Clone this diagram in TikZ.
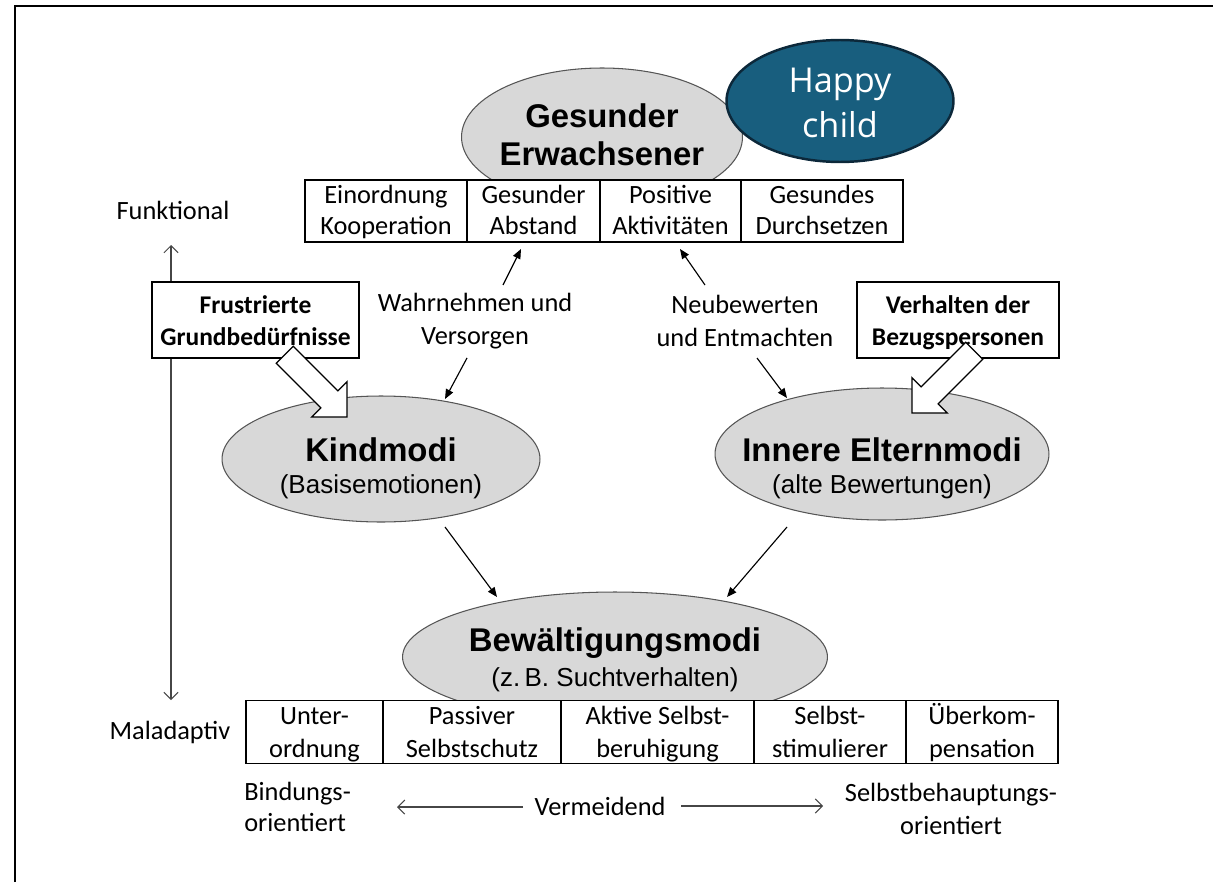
\documentclass[tikz,border=0pt]{standalone}
\usepackage{fontspec}
\setmainfont{Carlito}
\newfontfamily\arialf{Liberation Sans}
\newfontfamily\happyf{Open Sans}
\usetikzlibrary{shapes.geometric,arrows.meta}
\definecolor{ellgray}{RGB}{216,216,216}
\definecolor{elldraw}{RGB}{85,85,85}
\definecolor{happyfill}{RGB}{24,94,126}
\definecolor{happydraw}{RGB}{12,40,58}
\definecolor{axisgray}{RGB}{70,70,70}
\begin{document}
\begin{tikzpicture}[x=0.02cm,y=0.02cm,
  ell/.style={ellipse, draw=elldraw, fill=ellgray, line width=0.6pt, inner sep=0pt},
  etitle/.style={font=\arialf\bfseries\fontsize{18.7}{22}\selectfont, inner sep=0pt},
  esub/.style={font=\arialf\fontsize{14.8}{17}\selectfont, inner sep=0pt},
  cell/.style={draw=black, fill=white, line width=0.7pt, inner sep=0pt, align=center,
    font=\fontsize{15}{17.6}\selectfont, minimum height=1.24cm,
    text height=31pt, text depth=4pt},
  bcell/.style={cell, minimum height=1.26cm, font=\fontsize{15}{18.7}\selectfont,
    text height=32pt, text depth=3pt},
  srcbox/.style={draw=black, fill=white, line width=0.7pt, inner sep=0pt, align=center,
    font=\bfseries\fontsize{14.5}{18.1}\selectfont, minimum height=1.52cm,
    text height=33.2pt, text depth=4pt},
  lbl/.style={align=center, inner sep=0pt, font=\fontsize{15}{18.5}\selectfont},
  thinarrow/.style={line width=0.65pt, -{Triangle[length=5.5pt,width=4.5pt]}},
  axisarrow/.style={line width=0.6pt, draw=axisgray, {Straight Barb[length=4pt,width=8pt]}-{Straight Barb[length=4pt,width=8pt]}},
  hollow/.style={draw=black, fill=white, line width=0.7pt, line join=miter}
]
\useasboundingbox (0,0) rectangle (1213,-882);
% frame
\draw[line width=0.9pt] (15,-882) -- (15,-6) -- (1213,-6);

% axis
\node[lbl] (funk) at (173,-210) {Funktional};
\node[lbl] (mal) at (170,-732) {Maladaptiv};
\coordinate (axtop) at (171,-245);
\coordinate (axbot) at (171,-700);
\draw[axisarrow] (axtop) -- (axbot);

% ellipses
\node[ell, minimum width=5.62cm, minimum height=2.76cm] (ge) at (602,-137) {};
\node[etitle] (ge1) at (602,-116) {Gesunder};
\node[etitle] (ge2) at (602,-154) {Erwachsener};

\node[ellipse, draw=happydraw, fill=happyfill, line width=1.4pt, minimum width=4.54cm, minimum height=2.44cm, inner sep=0pt] (hc) at (840,-101) {};
\node[font=\happyf\fontsize{19.5}{25.5}\selectfont, text=white, align=center, inner sep=0pt] (hct) at (840,-103) {Happy\\child};

\node[ell, minimum width=6.36cm, minimum height=2.52cm] (km) at (381,-459) {};
\node[etitle] (km1) at (381,-450) {Kindmodi};
\node[esub] (km2) at (381,-487) {(Basisemotionen)};

\node[ell, minimum width=6.68cm, minimum height=2.64cm] (em) at (882,-454) {};
\node[etitle] (em1) at (882,-450) {Innere Elternmodi};
\node[esub] (em2) at (882,-487) {(alte Bewertungen)};

\node[ell, minimum width=8.5cm, minimum height=2.6cm] (bm) at (615,-657) {};
\node[etitle] (bm1) at (615,-643) {Bewältigungsmodi};
\node[esub] (bm2) at (615,-680) {(z.\,B. Suchtverhalten)};

% top cells
\node[cell, minimum width=3.24cm] (t1) at (386,-211) {Einordnung\\Kooperation};
\node[cell, minimum width=2.66cm] (t2) at (533.5,-211) {Gesunder\\Abstand};
\node[cell, minimum width=2.82cm] (t3) at (670.5,-211) {Positive\\Aktivitäten};
\node[cell, minimum width=3.24cm] (t4) at (822,-211) {Gesundes\\Durchsetzen};

% bottom cells
\node[bcell, minimum width=2.74cm] (b1) at (314.5,-732) {Unter-\\ordnung};
\node[bcell, minimum width=3.56cm] (b2) at (472,-732) {Passiver\\Selbstschutz};
\node[bcell, minimum width=3.86cm] (b3) at (657.5,-732) {Aktive Selbst-\\beruhigung};
\node[bcell, minimum width=3.04cm] (b4) at (830,-732) {Selbst-\\stimulierer};
\node[bcell, minimum width=3.04cm] (b5) at (982,-732) {Überkom-\\pensation};

% source boxes
\node[srcbox, minimum width=4.14cm] (fg) at (255.5,-320) {Frustrierte\\Grundbedürfnisse};
\node[srcbox, minimum width=4.04cm] (vb) at (958,-320) {Verhalten der\\Bezugspersonen};

% labels
\node[lbl] (wv) at (475,-321) {Wahrnehmen und\\Versorgen};
\node[lbl] (ne) at (745,-321) {Neubewerten\\und Entmachten};

% thin arrows
\coordinate (a1s) at (503,-285); \coordinate (a1e) at (521,-249);
\coordinate (a2s) at (705,-285); \coordinate (a2e) at (680,-249);
\coordinate (a3s) at (467,-358); \coordinate (a3e) at (445,-399);
\coordinate (a4s) at (757,-358); \coordinate (a4e) at (787,-398);
\coordinate (a5s) at (445,-527); \coordinate (a5e) at (497,-597);
\coordinate (a6s) at (787,-527); \coordinate (a6e) at (727,-597);
\draw[thinarrow] (a1s) -- (a1e);
\draw[thinarrow] (a2s) -- (a2e);
\draw[thinarrow] (a3s) -- (a3e);
\draw[thinarrow] (a4s) -- (a4e);
\draw[thinarrow] (a5s) -- (a5e);
\draw[thinarrow] (a6s) -- (a6e);

% hollow block arrows
\begin{scope}[shift={(347,-417)}, rotate=-45]
  \draw[hollow] (0,0) -- (-25,25) -- (-25,12) -- (-88,12) -- (-88,-12) -- (-25,-12) -- (-25,-25) -- cycle;
\end{scope}
\begin{scope}[shift={(912,-413)}, rotate=-135]
  \draw[hollow] (0,0) -- (-25,25) -- (-25,12) -- (-88,12) -- (-88,-12) -- (-25,-12) -- (-25,-25) -- cycle;
\end{scope}

% bottom orientation
\node[lbl, align=left, anchor=west, font=\fontsize{15}{18}\selectfont] (bo) at (244,-807) {Bindungs-\\orientiert};
\node[lbl] (vm) at (600,-806) {Vermeidend};
\node[lbl] (so) at (951,-809) {Selbstbehauptungs-\\orientiert};
\coordinate (vl1) at (523,-807); \coordinate (vl2) at (397,-807);
\coordinate (vr1) at (681,-806); \coordinate (vr2) at (823,-806);
\draw[line width=0.6pt, draw=axisgray, -{Straight Barb[length=4pt,width=8pt]}] (vl1) -- (vl2);
\draw[line width=0.6pt, draw=axisgray, -{Straight Barb[length=4pt,width=8pt]}] (vr1) -- (vr2);
\end{tikzpicture}
\end{document}
